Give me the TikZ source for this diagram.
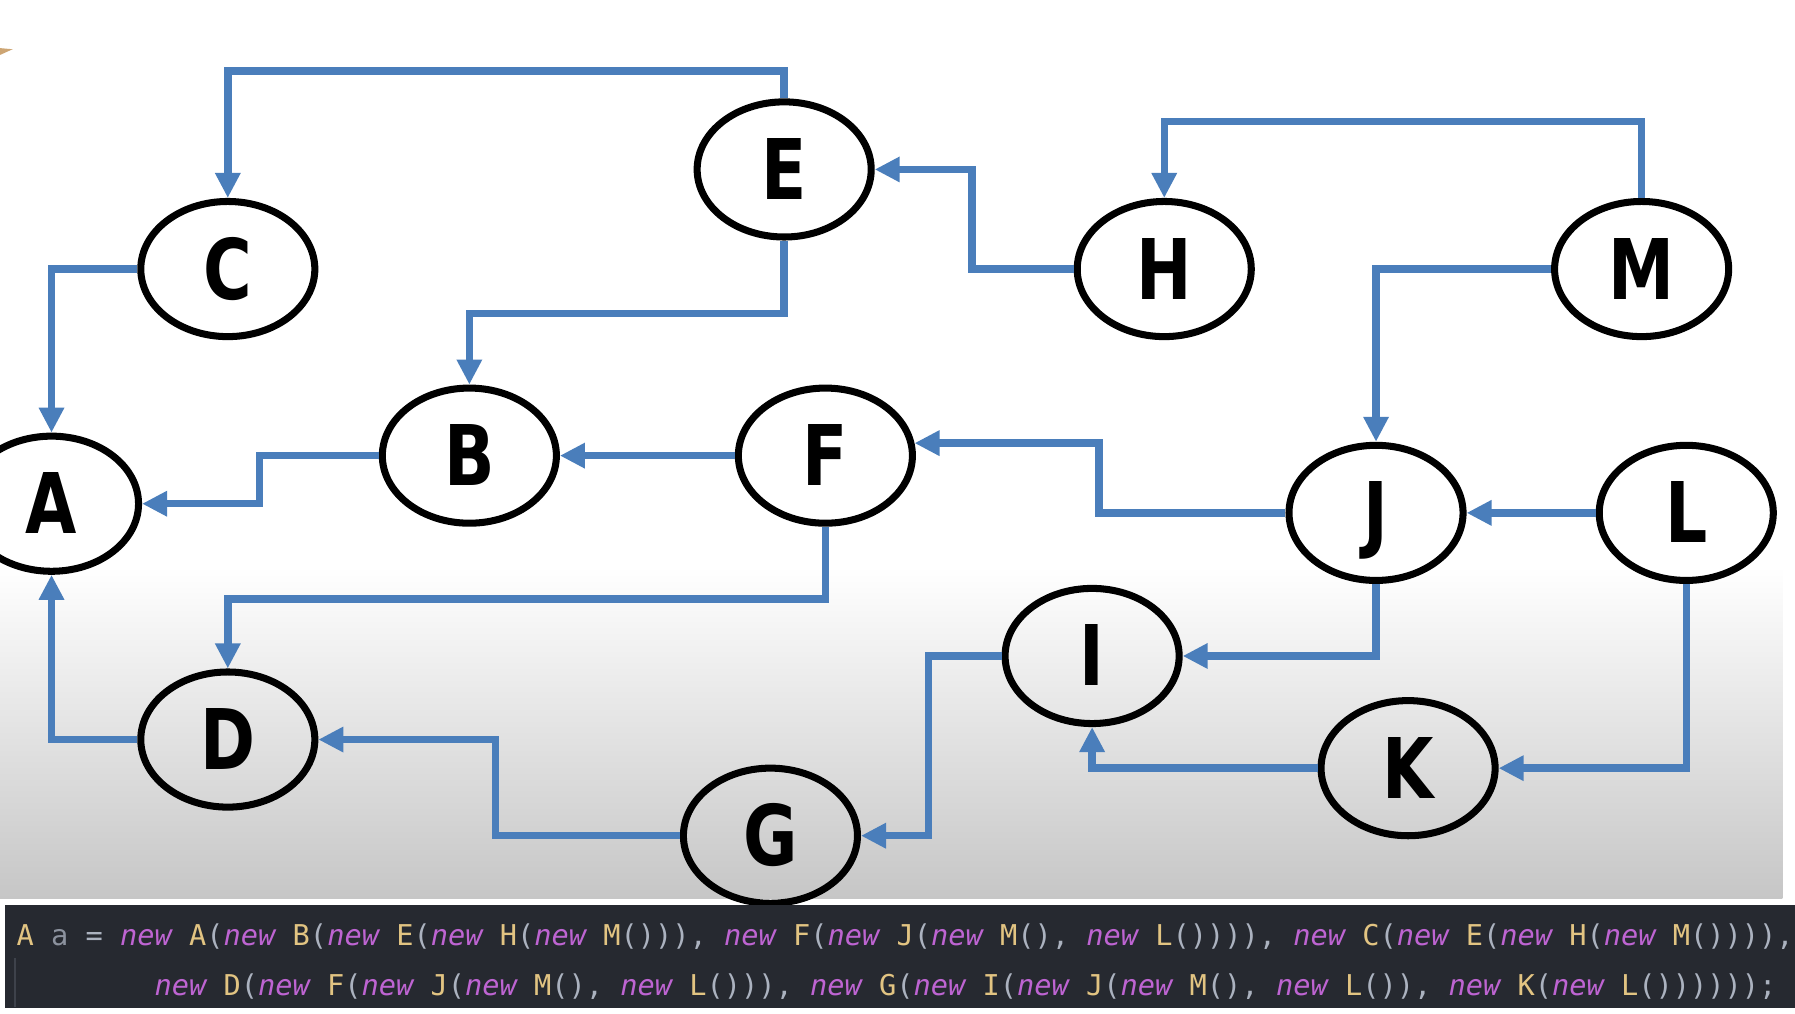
\documentclass[tikz,border=0pt]{standalone}
\usepackage{fontspec}
\usetikzlibrary{shapes.geometric,arrows.meta}

\newfontfamily\nodefont[FakeStretch=0.88]{DejaVu Sans Condensed}
\newfontfamily\codefont{DejaVu Sans Mono}

\definecolor{linkblue}{RGB}{74,126,187}
\definecolor{bggray}{RGB}{198,198,198}
\definecolor{codebg}{RGB}{38,41,48}
\definecolor{codeguide}{RGB}{62,66,75}
\definecolor{kwcol}{RGB}{190,100,210}
\definecolor{clscol}{RGB}{226,196,130}
\definecolor{pncol}{RGB}{171,178,191}
\definecolor{varcol}{RGB}{140,146,158}
\definecolor{fleck}{RGB}{205,165,115}

\newcommand\nw[1]{\textcolor{kwcol}{\itshape new} \textcolor{clscol}{#1}\textcolor{pncol}{(}}
\newcommand\pn[1]{\textcolor{pncol}{#1}}

\begin{document}
\begin{tikzpicture}[x=0.011448cm, y=-0.011448cm,
  vertex/.style={ellipse, draw=black, line width=2pt, minimum width=1.74cm, minimum height=1.351cm, inner sep=0pt, text height=0.6cm, text depth=0pt, font=\nodefont\bfseries\fontsize{23.8pt}{24pt}\selectfont},
  link/.style={draw=linkblue, line width=2.1pt, -{Triangle[length=0.25cm, width=0.24cm]}},
  codeline/.style={anchor=base west, inner sep=0pt, font=\codefont\fontsize{8.15pt}{10pt}\selectfont}]

\useasboundingbox (0,0) rectangle (1568,885);
\fill[white] (0,0) rectangle (1568,885);
\shade[top color=white, bottom color=bggray] (0,495) rectangle (1557,785);
\fill[fleck] (0,42) -- (11,43) -- (0,48) -- cycle;

%nodes
\node[vertex] (A) at (45,440) {A};
\node[vertex] (B) at (410,398) {B};
\node[vertex] (C) at (199,235) {C};
\node[vertex] (D) at (199,646) {D};
\node[vertex] (E) at (685,148) {E};
\node[vertex] (F) at (721,398) {F};
\node[vertex] (G) at (673,730) {G};
\node[vertex] (H) at (1017,235) {H};
\node[vertex] (I) at (954,573) {I};
\node[vertex] (J) at (1202,448) {J};
\node[vertex] (K) at (1230,671) {K};
\node[vertex] (L) at (1473,448) {L};
\node[vertex] (M) at (1434,235) {M};

%links
\draw[link] (E.north) -- ++(0,-24) -| (C.north);
\draw[link] (E.south) -- ++(0,64) -| (B.north);
\draw[link] (H.west) -- ++(-89,0) |- (E.east);
\draw[link] (M.north) -- ++(0,-67) -| (H.north);
\draw[link] (M.west) -| (J.north);
\draw[link] (C.west) -| (A.north);
\draw[link] (B.west) -- ++(-104,0) |- (A.east);
\draw[link] (F.west) -- (B.east);
\draw[link] (J.west) -- ++(-163,0) |- (F.8);
\draw[link] (L.west) -- (J.east);
\draw[link] (F.south) -- ++(0,63) -| (D.north);
\draw[link] (D.west) -| (A.south);
\draw[link] (G.west) -- ++(-161,0) |- (D.east);
\draw[link] (I.west) -- ++(-64,0) |- (G.east);
\draw[link] (J.south) |- (I.east);
\draw[link] (K.west) -| (I.south);
\draw[link] (L.south) |- (K.east);

%code
\fill[codebg] (4.4,790.5) rectangle (1568,880.5);
\draw[codeguide, line width=0.6pt] (13.2,837) -- (13.2,880);
\node[codeline] (line1) at (14,825.5) {\textcolor{clscol}{A} \textcolor{varcol}{a} \pn{=} \nw{A}\nw{B}\nw{E}\nw{H}\nw{M}\pn{))),} \nw{F}\nw{J}\nw{M}\pn{),} \nw{L}\pn{)))),} \nw{C}\nw{E}\nw{H}\nw{M}\pn{)))),}};
\node[codeline] (line2) at (134.5,870) {\nw{D}\nw{F}\nw{J}\nw{M}\pn{),} \nw{L}\pn{))),} \nw{G}\nw{I}\nw{J}\nw{M}\pn{),} \nw{L}\pn{)),} \nw{K}\nw{L}\pn{))))));}};

\end{tikzpicture}
\end{document}
